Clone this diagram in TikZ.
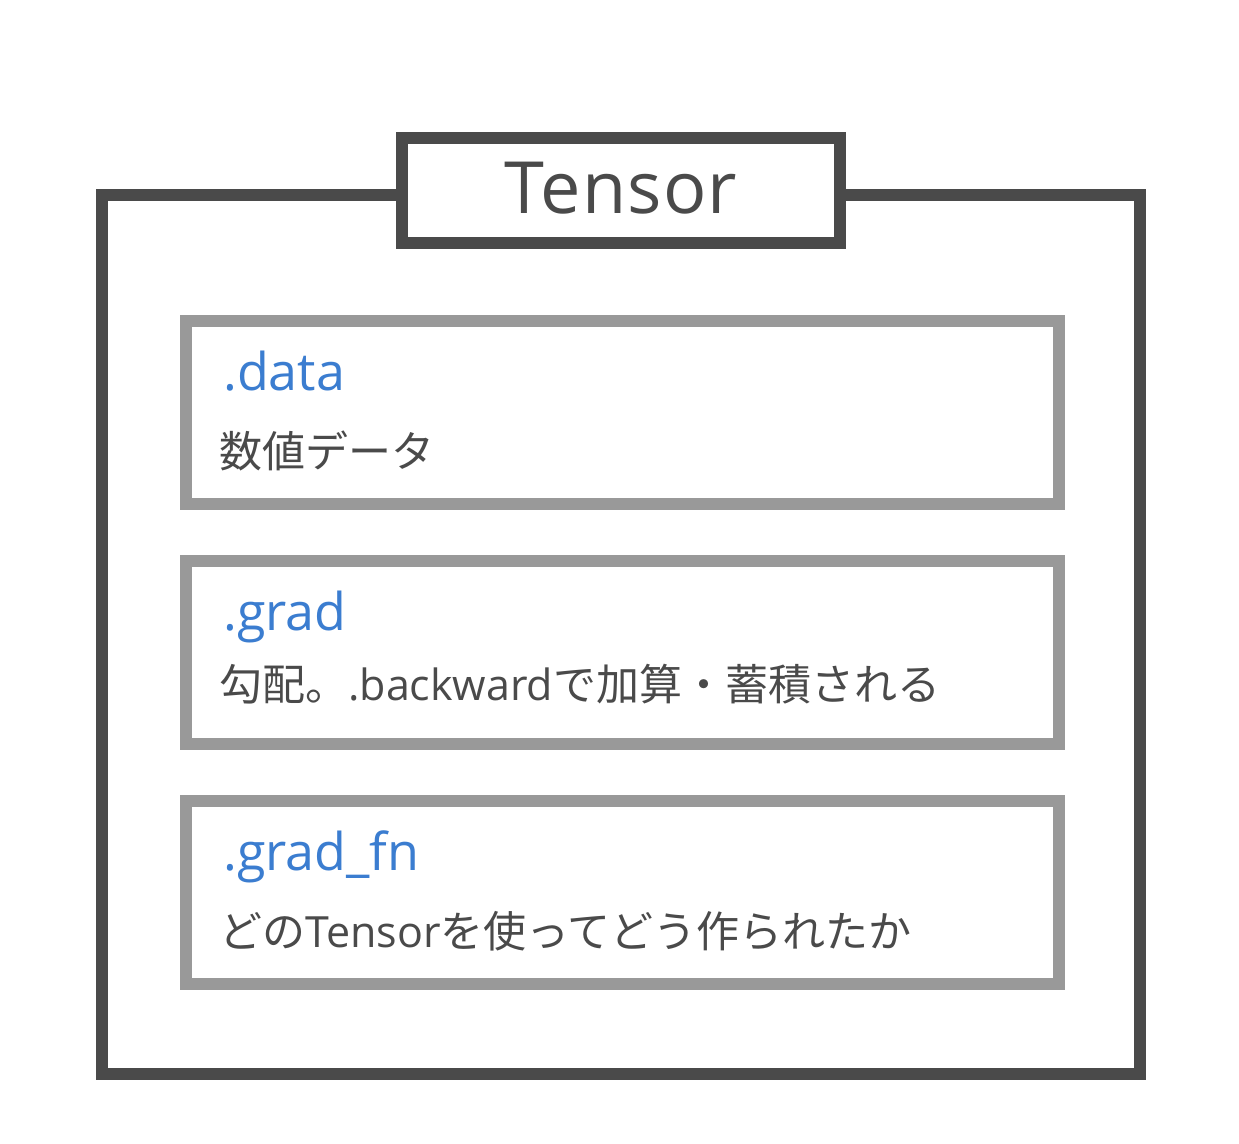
\documentclass[tikz,border=0pt]{standalone}
\usepackage{fontspec}
\setmainfont{Open Sans}
\newfontfamily\jp{Noto Sans CJK JP}
\definecolor{darkline}{HTML}{4A4A4A}
\definecolor{grayline}{HTML}{999999}
\definecolor{fieldblue}{HTML}{3B7DD0}
\begin{document}
\begin{tikzpicture}[x=1pt,y=-1pt,
  outerbox/.style={draw=darkline,line width=12pt,minimum width=1038pt,minimum height=879pt,inner sep=0pt},
  titlebox/.style={draw=darkline,fill=white,line width=12pt,minimum width=438pt,minimum height=105pt,inner sep=0pt},
  fieldbox/.style={draw=grayline,fill=white,line width=12pt,minimum width=873pt,minimum height=183pt,inner sep=0pt},
  fieldname/.style={anchor=base west,inner sep=0pt,text=fieldblue,font=\fontsize{52}{60}\selectfont},
  fielddesc/.style={anchor=base west,inner sep=0pt,text=darkline,font=\fontsize{43}{50}\selectfont},
  titletext/.style={anchor=base,inner sep=0pt,text=darkline,font=\fontsize{72}{80}\selectfont}
]
\useasboundingbox (0,0) rectangle (1239,1143);
\node[outerbox] (outer) at (621,634.5) {};
\node[titlebox] (tbox) at (621,190.5) {};
\node[titletext] (ttext) at (621,213) {\addfontfeatures{LetterSpace=1.5}Tensor};

\node[fieldbox] (f1) at (622.5,412.5) {};
\node[fieldbox] (f2) at (622.5,652.5) {};
\node[fieldbox] (f3) at (622.5,892.5) {};

\node[fieldname] (n1) at (223,390) {.data};
\node[fielddesc] (d1) at (219,467) {\jp 数値データ};
\node[fieldname] (n2) at (223,630) {.grad};
\node[fielddesc] (d2) at (219,700) {{\jp 勾配。}.backward{\jp で加算・蓄積される}};
\node[fieldname] (n3) at (223,870) {.grad\_fn};
\node[fielddesc] (d3) at (219,947) {{\jp どの}Tensor{\jp を使ってどう作られたか}};
\end{tikzpicture}
\end{document}
